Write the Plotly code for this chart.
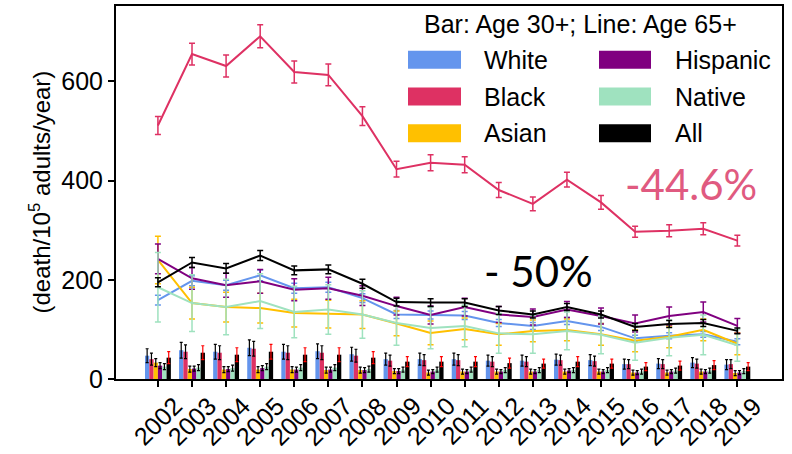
import plotly.graph_objects as go

# ---- data -------------------------------------------------------------
years = list(range(2002, 2020))
groups = ["White", "Black", "Asian", "Hispanic", "Native", "All"]
colors = ["#6495ED", "#DE3163", "#FFC000", "#800080", "#9FE2BF", "#000000"]

# Age 30+ (bars)
white30 = [47, 58, 55, 63, 55, 56, 50, 40, 40, 40, 37, 37, 39, 38, 30, 31, 33, 29]
black30 = [40, 55, 53, 61, 53, 53, 47, 37, 38, 38, 35, 35, 38, 36, 30, 30, 31, 30]
asian30 = [33, 20, 19, 19, 19, 18, 18, 16, 13, 15, 15, 15, 15, 15, 13, 13, 15, 12]
hisp30 = [27, 21, 20, 22, 19, 19, 18, 16, 15, 15, 15, 15, 17, 15, 13, 15, 15, 13]
native30 = [25, 23, 22, 25, 23, 23, 20, 19, 19, 19, 18, 18, 18, 18, 15, 17, 17, 16]
all30 = [43, 53, 49, 55, 49, 49, 43, 35, 35, 35, 32, 31, 35, 31, 25, 27, 28, 25]

white30_err = [14, 16, 15, 16, 15, 15, 14, 12, 12, 12, 11, 11, 11, 11, 10, 10, 10, 10]
black30_err = [12, 14, 14, 15, 14, 14, 13, 11, 11, 11, 10, 10, 10, 10, 9, 9, 9, 9]
asian30_err = [8, 6, 6, 6, 6, 6, 6, 5, 5, 5, 5, 5, 5, 5, 5, 5, 5, 5]
hisp30_err = [6, 5, 5, 5, 5, 5, 5, 5, 4, 4, 4, 4, 4, 4, 4, 4, 4, 4]
native30_err = [6, 6, 6, 6, 6, 6, 6, 5, 5, 5, 5, 5, 5, 5, 5, 5, 5, 5]
all30_err = [12, 14, 14, 15, 14, 14, 12, 10, 10, 10, 10, 9, 10, 9, 8, 9, 9, 8]

# Age 65+ (lines)
white65 = [159, 198, 189, 209, 183, 185, 163, 130, 129, 128, 113, 107, 117, 105, 82, 87, 90, 75]
black65 = [511, 655, 631, 691, 619, 613, 530, 423, 436, 432, 381, 353, 402, 356, 297, 299, 303, 279]
asian65 = [240, 153, 145, 143, 133, 131, 130, 112, 93, 101, 90, 97, 99, 90, 77, 85, 99, 71]
hisp65 = [242, 203, 189, 197, 180, 183, 168, 147, 129, 145, 130, 125, 140, 127, 112, 127, 135, 107]
native65 = [185, 153, 145, 157, 135, 140, 130, 113, 103, 107, 92, 90, 97, 89, 73, 83, 89, 68]
all65 = [195, 235, 223, 249, 219, 221, 192, 155, 154, 154, 138, 130, 145, 130, 105, 111, 113, 97]

white65_err = [10, 10, 10, 11, 10, 10, 9, 8, 8, 8, 7, 7, 7, 7, 6, 6, 6, 6]
black65_err = [18, 22, 22, 23, 22, 22, 19, 16, 16, 16, 15, 14, 15, 14, 11, 12, 12, 11]
asian65_err = [48, 32, 30, 30, 28, 28, 28, 25, 24, 22, 22, 22, 22, 22, 22, 22, 22, 22]
hisp65_err = [30, 22, 24, 24, 22, 22, 20, 18, 18, 18, 16, 16, 16, 16, 17, 18, 20, 15]
native65_err = [70, 57, 56, 55, 52, 50, 48, 45, 42, 42, 40, 38, 38, 38, 35, 36, 40, 32]
all65_err = [9, 10, 10, 10, 9, 9, 9, 8, 8, 8, 8, 7, 7, 7, 7, 7, 7, 6]

bars30 = [white30, black30, asian30, hisp30, native30, all30]
bars30_err = [white30_err, black30_err, asian30_err, hisp30_err, native30_err, all30_err]
lines65 = [white65, black65, asian65, hisp65, native65, all65]
lines65_err = [white65_err, black65_err, asian65_err, hisp65_err, native65_err, all65_err]
bar_err_colors = ["#000000", "#000000", "#000000", "#000000", "#000000", "#FF0000"]

legend_title = "Bar: Age 30+; Line: Age 65+"
change_black = "-44.6%"
change_all = "- 50%"
y_title = "(death/10<sup>5</sup> adults/year)"

# ---- layout geometry --------------------------------------------------
W, H = 792, 454
ML, MR, MT, MB = 116, 10, 4, 75
PW, PH = W - ML - MR, H - MT - MB


def px(xp):
    return (xp - ML) / PW


def py(yp):
    return (H - MB - yp) / PH


BASE_FONT = "Liberation Sans, Arial, Helvetica, sans-serif"

fig = go.Figure()

for name, vals, errs, col, ecol in zip(groups, bars30, bars30_err, colors, bar_err_colors):
    fig.add_trace(go.Bar(
        x=years, y=vals, name=name, marker=dict(color=col, line=dict(width=0)),
        error_y=dict(type="data", array=errs, color=ecol, thickness=1.2, width=1.5),
        showlegend=False,
    ))

for name, vals, errs, col in zip(groups, lines65, lines65_err, colors):
    fig.add_trace(go.Scatter(
        x=years, y=vals, name=name, mode="lines",
        line=dict(color=col, width=2),
        error_y=dict(type="data", array=errs, color=col, thickness=1.5, width=3),
        showlegend=False,
    ))

annotations = []
shapes = []

# rotated year labels centred under each tick
for yr in years:
    annotations.append(dict(
        x=yr, xref="x", y=0, yref="paper", yshift=-42, text=str(yr),
        textangle=-45, showarrow=False, xanchor="center", yanchor="middle",
        font=dict(family=BASE_FONT, size=25, color="black"),
    ))

# y-axis title
annotations.append(dict(
    x=0, xref="paper", xshift=-77, y=0.5, yref="paper", text=y_title,
    textangle=-90, showarrow=False, xanchor="center", yanchor="middle",
    font=dict(family=BASE_FONT, size=24, color="black"),
))

# legend block
annotations.append(dict(
    x=px(580), y=py(22), xref="paper", yref="paper", text=legend_title,
    showarrow=False, xanchor="center", yanchor="middle",
    font=dict(family=BASE_FONT, size=25, color="black"),
))
col_sw = [(408, 461), (599, 651)]
col_tx = [482, 673]
row_y = [58, 95, 132]
for i, (name, col) in enumerate(zip(groups, colors)):
    c, r = divmod(i, 3)
    x0, x1 = col_sw[c]
    yc = row_y[r]
    shapes.append(dict(
        type="rect", xref="paper", yref="paper",
        x0=px(x0), x1=px(x1), y0=py(yc + 9), y1=py(yc - 9),
        fillcolor=col, line=dict(width=0), layer="above",
    ))
    annotations.append(dict(
        x=px(col_tx[c]), y=py(yc), xref="paper", yref="paper", text=name,
        showarrow=False, xanchor="left", yanchor="middle",
        font=dict(family=BASE_FONT, size=25, color="black"),
    ))

# percentage changes
annotations.append(dict(
    x=px(691), y=py(183), xref="paper", yref="paper", text=change_black,
    showarrow=False, xanchor="center", yanchor="middle",
    font=dict(family="Lato, Open Sans, sans-serif", size=42, color="#E05A80"),
))
annotations.append(dict(
    x=px(538), y=py(270), xref="paper", yref="paper", text=change_all,
    showarrow=False, xanchor="center", yanchor="middle",
    font=dict(family="Lato, Open Sans, sans-serif", size=42, color="black"),
))

fig.update_layout(
    width=W, height=H,
    margin=dict(l=ML, r=MR, t=MT, b=MB, pad=0),
    paper_bgcolor="white", plot_bgcolor="white",
    barmode="group", bargap=0.24, bargroupgap=0,
    font=dict(family=BASE_FONT, size=25, color="black"),
    annotations=annotations, shapes=shapes,
)
fig.update_xaxes(
    range=[2000.77, 2020.31], tickvals=years, showticklabels=False,
    ticks="outside", ticklen=6, tickwidth=1.5, tickcolor="black",
    showline=True, linecolor="black", linewidth=2, mirror=True,
    showgrid=False, zeroline=False,
)
fig.update_yaxes(
    range=[0, 752], tickvals=[0, 200, 400, 600],
    ticks="outside", ticklen=6, tickwidth=1.5, tickcolor="black",
    tickfont=dict(family=BASE_FONT, size=25, color="black"),
    showline=True, linecolor="black", linewidth=2, mirror=True,
    showgrid=False, zeroline=False,
)

fig.write_html("out.html")
